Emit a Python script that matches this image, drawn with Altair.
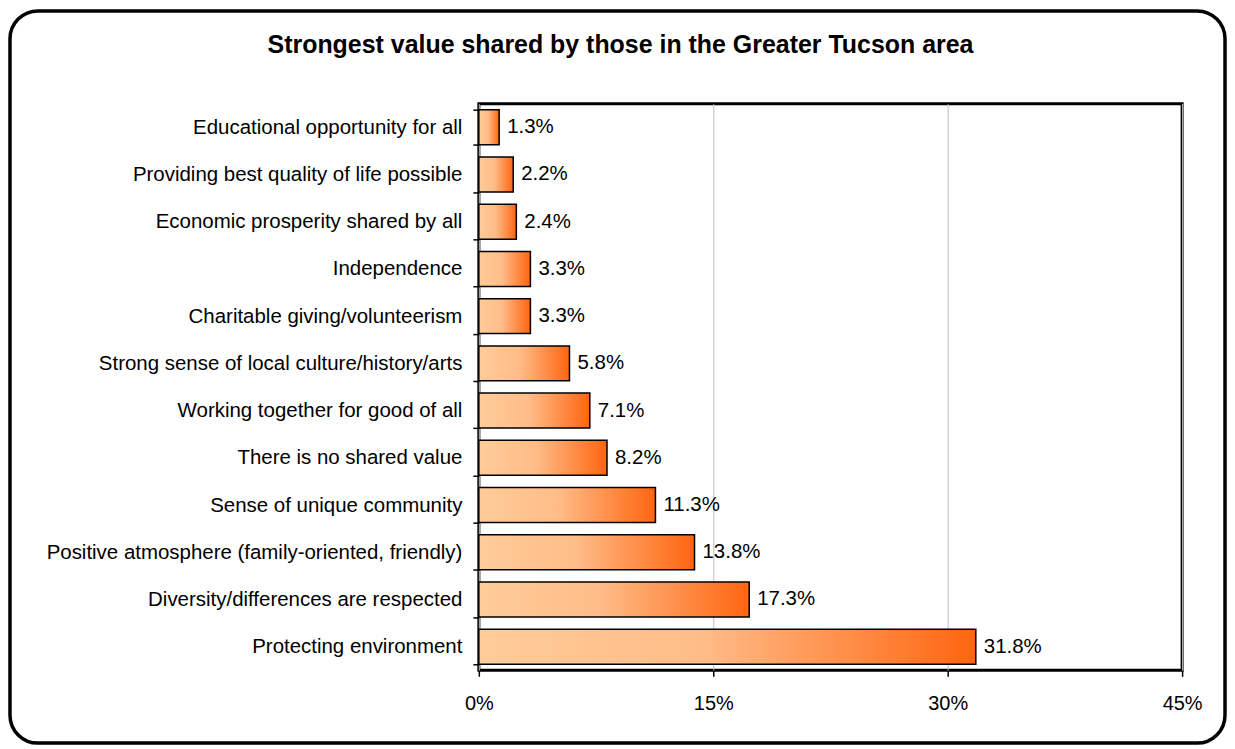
import altair as alt
import pandas as pd

title_text = "Strongest value shared by those in the Greater Tucson area"
categories = [
    "Educational opportunity for all",
    "Providing best quality of life possible",
    "Economic prosperity shared by all",
    "Independence",
    "Charitable giving/volunteerism",
    "Strong sense of local culture/history/arts",
    "Working together for good of all",
    "There is no shared value",
    "Sense of unique community",
    "Positive atmosphere (family-oriented, friendly)",
    "Diversity/differences are respected",
    "Protecting environment",
]
values = [1.3, 2.2, 2.4, 3.3, 3.3, 5.8, 7.1, 8.2, 11.3, 13.8, 17.3, 31.8]
x_ticks = [0, 0.15, 0.30, 0.45]

df = pd.DataFrame({"category": categories, "value": [v / 100 for v in values]})
df["label"] = [f"{v:.1f}%" for v in values]

FONT = "Liberation Sans"
W, H = 705, 568

grad = alt.Gradient(
    gradient="linear",
    stops=[
        alt.GradientStop(color="#FFCC99", offset=0),
        alt.GradientStop(color="#FFBC88", offset=0.45),
        alt.GradientStop(color="#FF6510", offset=1),
    ],
    x1=0, x2=1, y1=0, y2=0,
)

y_enc = alt.Y(
    "category:N",
    sort=categories,
    title=None,
    scale=alt.Scale(paddingInner=0.26, paddingOuter=0.13),
    axis=alt.Axis(
        labelFont=FONT, labelFontSize=20.5, labelColor="black",
        labelPadding=11, tickSize=6, tickColor="black", tickWidth=1.5,
        tickBand="extent", domain=False, labelLimit=470,
    ),
)
x_enc = alt.X(
    "value:Q",
    title=None,
    scale=alt.Scale(domain=[0, 0.45], nice=False),
    axis=alt.Axis(
        values=x_ticks, format=".0%", labelFont=FONT, labelFontSize=20,
        labelColor="black", labelPadding=17, tickSize=6, tickColor="black",
        tickWidth=1.5, domain=False, grid=True, gridColor="#c0c0c0",
        gridWidth=1, labelFlush=False,
    ),
)

bars = alt.Chart(df).mark_bar(color=grad, stroke="black", strokeWidth=1.5).encode(
    x=x_enc, y=y_enc
)
text = alt.Chart(df).mark_text(
    align="left", baseline="middle", dx=8, font=FONT, fontSize=20.5, color="black"
).encode(x="value:Q", y=alt.Y("category:N", sort=categories), text="label:N")

frame = alt.Chart(alt.Data(values=[{"a": 1}])).mark_rect(
    fill=None, stroke="black", strokeWidth=3.5, cornerRadius=28, clip=False
).encode(
    x=alt.value(-470), x2=alt.value(748), y=alt.value(-93), y2=alt.value(641)
)

title = alt.Chart(alt.Data(values=[{"t": title_text}])).mark_text(
    font=FONT, fontSize=25, fontWeight="bold", color="black",
    align="center", baseline="alphabetic", clip=False,
).encode(x=alt.value(142), y=alt.value(-51), text="t:N")

chart = alt.layer(frame, bars, text, title).properties(
    width=W,
    height=H,
    padding={"left": 472, "top": 95, "right": 45, "bottom": 77},
    autosize=alt.AutoSizeParams(type="none"),
    background="white",
).configure_view(stroke="black", strokeWidth=3)

chart.save("out.html", embed_options={"renderer": "svg", "actions": False})
